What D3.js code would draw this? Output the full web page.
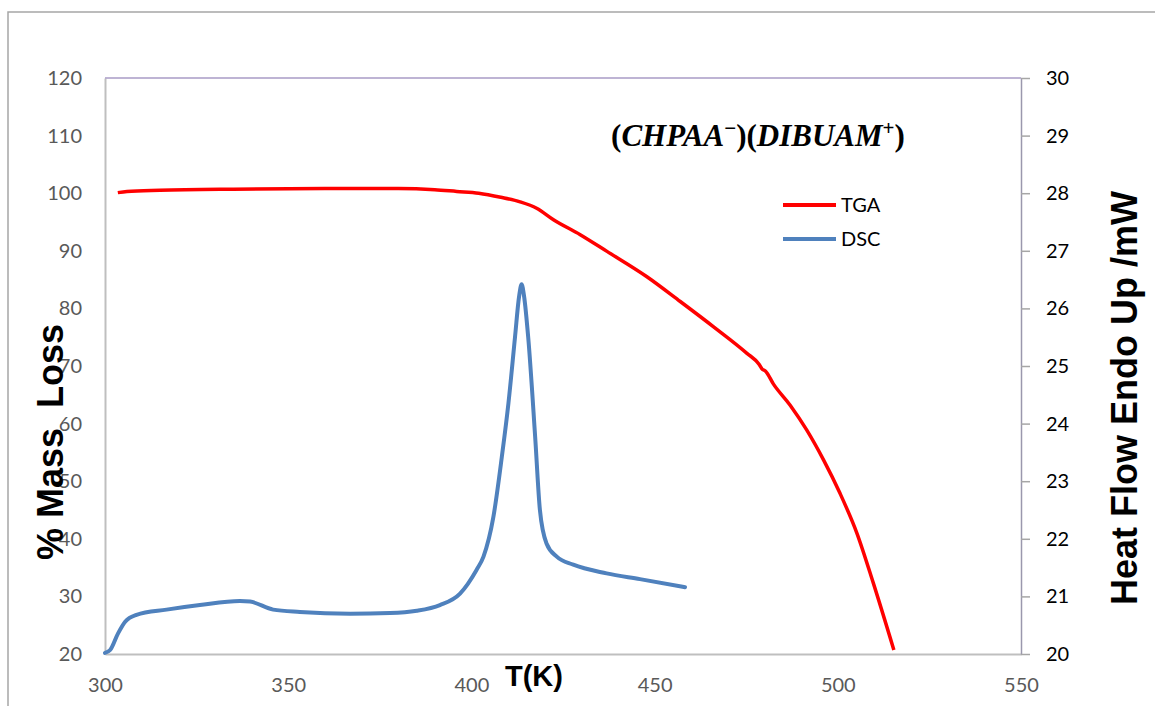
<!DOCTYPE html>
<html>
<head>
<meta charset="utf-8">
<script src="https://cdn.jsdelivr.net/npm/d3@7"></script>
<style>
  body { margin: 0; background: #fff; }
  svg { display: block; }
</style>
</head>
<body>
<div id="chart"></div>
<script>
// TGA: temperature (K) vs % mass
const tgaT = [303.5, 306, 315, 335, 360, 380, 390, 396, 402, 408, 413.3, 417.8, 422.4, 429.7, 437, 447.9, 457, 466.1, 475.2, 478.5, 479.3, 480.3, 482.4, 487, 491.5, 496.1, 500.6, 505.2, 509.7, 515.3];
const tgaV = [100.1, 100.3, 100.5, 100.7, 100.8, 100.8, 100.6, 100.3, 100.0, 99.3, 98.5, 97.4, 95.4, 92.8, 89.9, 85.5, 81.2, 76.8, 72.2, 70.3, 69.5, 69.1, 66.9, 63.2, 58.9, 53.7, 47.9, 41.0, 32.3, 20.7];

// DSC: temperature (K) vs heat flow (mW)
const dscT = [300.0, 301.4, 303.5, 305.5, 308.6, 316.8, 325.9, 336.8, 339.6, 345.9, 353.2, 366.9, 377.8, 385.1, 391.4, 396.9, 401.4, 403.3, 406.0, 408.3, 410.1, 411.9, 413.0, 413.7, 414.4, 415.5, 417.4, 418.7, 420.5, 423.3, 427.8, 436.9, 446.0, 458.3];
const dscV = [20.02, 20.07, 20.35, 20.56, 20.68, 20.77, 20.85, 20.92, 20.91, 20.77, 20.73, 20.70, 20.71, 20.75, 20.85, 21.05, 21.46, 21.69, 22.38, 23.42, 24.35, 25.5, 26.2, 26.42, 26.2, 25.5, 23.77, 22.5, 21.92, 21.69, 21.55, 21.40, 21.30, 21.16];

const xTicks = [300, 350, 400, 450, 500, 550];
const yLeftTicks = [20, 30, 40, 50, 60, 70, 80, 90, 100, 110, 120];
const yRightTicks = [20, 21, 22, 23, 24, 25, 26, 27, 28, 29, 30];

const seriesNames = ["TGA", "DSC"];
const seriesColors = ["#ff0000", "#4f81bd"];

const width = 1155, height = 706;
const margin = { top: 78, right: 134, bottom: 52, left: 105 };

const svg = d3.select("#chart").append("svg")
    .attr("width", width)
    .attr("height", height);

// outer chart frame
svg.append("rect")
    .attr("x", 8).attr("y", 12)
    .attr("width", 1300).attr("height", 900)
    .attr("fill", "none")
    .attr("stroke", "#a6a6a6")
    .attr("stroke-width", 1.5);

const x = d3.scaleLinear().domain([300, 550]).range([margin.left, width - margin.right]);
const yL = d3.scaleLinear().domain([20, 120]).range([height - margin.bottom, margin.top]);
const yR = d3.scaleLinear().domain([20, 30]).range([height - margin.bottom, margin.top]);

const font = "Lato, 'Open Sans', sans-serif";

// left axis (no tick marks)
svg.append("g")
    .attr("transform", `translate(${margin.left},0)`)
    .call(d3.axisLeft(yL).tickValues(yLeftTicks).tickSize(0).tickPadding(23))
    .call(g => g.select(".domain").attr("stroke", "#bfbfbf").attr("stroke-width", 2))
    .call(g => g.selectAll("text").attr("fill", "#595959").style("font", `20px ${font}`));

// bottom axis
svg.append("g")
    .attr("transform", `translate(0,${height - margin.bottom})`)
    .call(d3.axisBottom(x).tickValues(xTicks).tickSize(0).tickPadding(24))
    .call(g => g.select(".domain").attr("stroke", "#bfbfbf").attr("stroke-width", 2))
    .call(g => g.selectAll("text").attr("fill", "#595959").style("font", `20px ${font}`));

// top border
svg.append("line")
    .attr("x1", margin.left).attr("x2", width - margin.right)
    .attr("y1", margin.top).attr("y2", margin.top)
    .attr("stroke", "#a99bc6").attr("stroke-width", 1.5);

// right axis
svg.append("g")
    .attr("transform", `translate(${width - margin.right},0)`)
    .call(d3.axisRight(yR).tickValues(yRightTicks).tickSize(9).tickSizeOuter(0).tickPadding(16))
    .call(g => g.select(".domain").attr("stroke", "#9a98ad").attr("stroke-width", 1.5))
    .call(g => g.selectAll(".tick line").attr("stroke", "#a6a6a6").attr("stroke-width", 1.5))
    .call(g => g.selectAll("text").attr("fill", "#000").style("font", `20px ${font}`));

// lines
const tgaData = tgaT.map((t, i) => ({ t, v: tgaV[i] }));
const dscData = dscT.map((t, i) => ({ t, v: dscV[i] }));

svg.append("path")
    .datum(tgaData)
    .attr("fill", "none")
    .attr("stroke", seriesColors[0])
    .attr("stroke-width", 3.5)
    .attr("d", d3.line().x(d => x(d.t)).y(d => yL(d.v)).curve(d3.curveMonotoneX));

svg.append("path")
    .datum(dscData)
    .attr("fill", "none")
    .attr("stroke", seriesColors[1])
    .attr("stroke-width", 4)
    .attr("stroke-linecap", "round")
    .attr("d", d3.line().x(d => x(d.t)).y(d => yR(d.v)).curve(d3.curveMonotoneX));

// axis titles
svg.append("text")
    .attr("transform", "translate(63,442) rotate(-90)")
    .attr("text-anchor", "middle")
    .style("font", "bold 36px 'Liberation Sans', Arial, sans-serif")
    .style("white-space", "pre")
    .text("% Mass  Loss");

svg.append("text")
    .attr("transform", "translate(1137,398) rotate(-90)")
    .attr("text-anchor", "middle")
    .style("font", "bold 36px 'Liberation Sans', Arial, sans-serif")
    .text("Heat Flow Endo Up /mW");

svg.append("text")
    .attr("x", 534).attr("y", 686)
    .attr("text-anchor", "middle")
    .style("font", "bold 29px 'Liberation Sans', Arial, sans-serif")
    .text("T(K)");

// compound label: upright brackets, italic letters, raised charges
const lab = svg.append("text")
    .attr("x", 758).attr("y", 146)
    .attr("text-anchor", "middle")
    .style("font", "bold 31px 'Liberation Serif', 'DejaVu Serif', serif");
const parts = [
    ["(", "normal", 0], ["CHPAA", "italic", 0], ["\u2212", "normal", 1], [")", "normal", -1],
    ["(", "normal", 0], ["DIBUAM", "italic", 0], ["+", "normal", 1], [")", "normal", -1]
];
parts.forEach(([s, st, sup]) => {
    lab.append("tspan")
        .attr("font-style", st)
        .attr("font-size", sup === 1 ? 21 : null)
        .attr("dy", sup === 1 ? -11 : sup === -1 ? 11 : 0)
        .text(s);
});

// legend
const legend = svg.append("g");
seriesNames.forEach((name, i) => {
    const yy = 205 + i * 34;
    legend.append("line")
        .attr("x1", 783).attr("x2", 836)
        .attr("y1", yy).attr("y2", yy)
        .attr("stroke", seriesColors[i])
        .attr("stroke-width", 4);
    legend.append("text")
        .attr("x", 841).attr("y", yy + 7)
        .style("font", `20px ${font}`)
        .text(name);
});
</script>
</body>
</html>
